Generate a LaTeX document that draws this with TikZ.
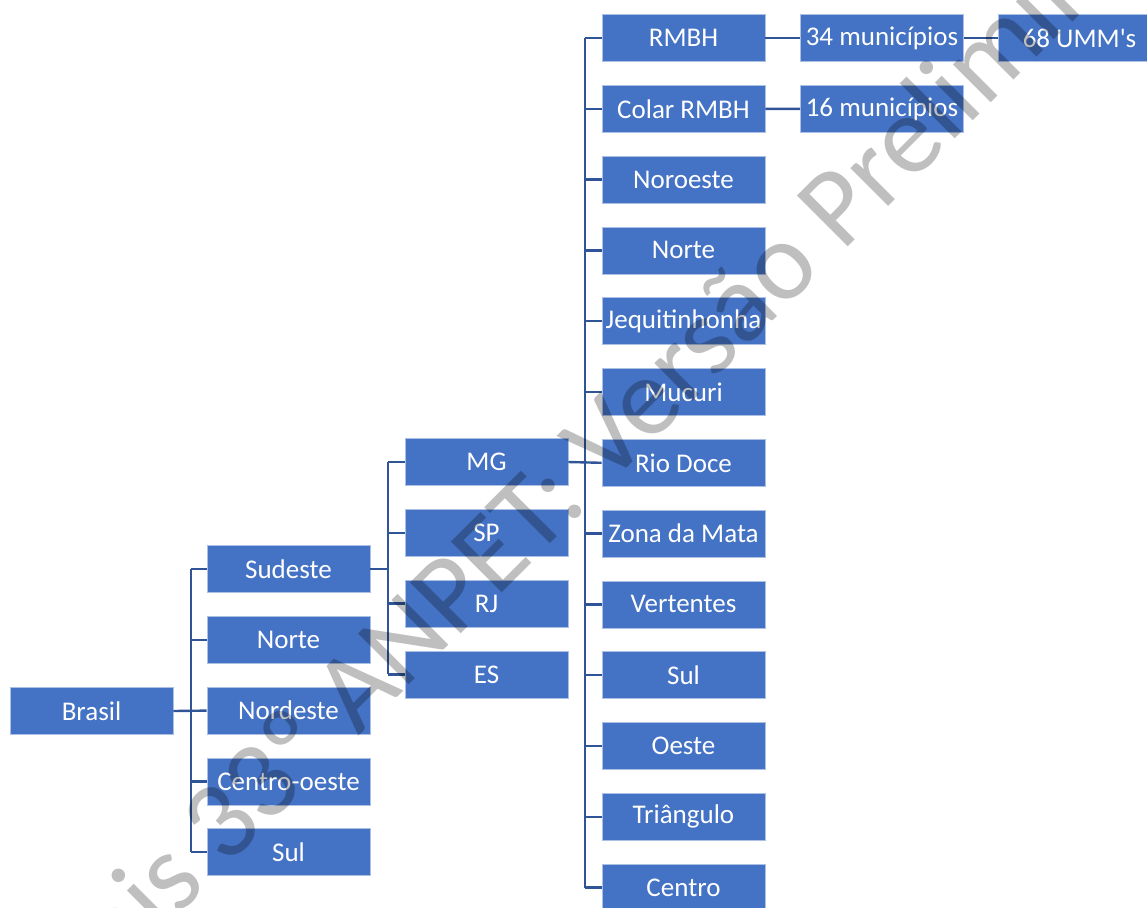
\documentclass[tikz,border=0pt]{standalone}
\usepackage{fontspec}
\setmainfont{Carlito}
\usetikzlibrary{positioning}

\definecolor{boxblue}{HTML}{4472C4}
\definecolor{linkblue}{HTML}{2F5597}

\begin{document}
\begin{tikzpicture}[
	x=0.5pt, y=-0.5pt,
	box/.style={fill=boxblue, draw=white!55!boxblue, line width=0.3pt,
		text=white, font=\fontsize{13.5}{15}\selectfont,
		minimum width=81.5pt, minimum height=23.5pt, inner sep=0pt},
	link/.style={draw=linkblue, line width=1.2pt},
	watermark/.style={text=black, text opacity=0.25,
		font=\fontsize{56}{60}\selectfont, inner sep=0pt}]

\clip (0,0) rectangle (1147,907);

\def\RowStep{70.8}

% Pais
\node[box] (brasil) at (91.5,711) {Brasil};

% Regioes
\foreach \nm/\txt [count=\i] in {sudeste/Sudeste, norte/Norte, nordeste/Nordeste,
	centroOeste/Centro-oeste, sul/Sul}
	\node[box] (\nm) at (288.5, {569+\RowStep*(\i-1)}) {\txt};

% Estados do Sudeste
\foreach \nm/\txt [count=\i] in {mg/MG, sp/SP, rj/RJ, es/ES}
	\node[box] (\nm) at (486.5, {462+\RowStep*(\i-1)}) {\txt};

% Mesorregioes de MG
\foreach \nm/\txt [count=\i] in {rmbh/RMBH, colar/Colar RMBH, noroeste/Noroeste,
	norteMG/Norte, jequi/Jequitinhonha, mucuri/Mucuri, riodoce/Rio Doce,
	zona/Zona da Mata, vertentes/Vertentes, sulMG/Sul, oeste/Oeste,
	triangulo/Triângulo, centro/Centro}
	\node[box] (\nm) at (683.5, {38+\RowStep*(\i-1)}) {\txt};

% Municipios e UMM's
\node[box] (mun34) at (882,38) {34 municípios};
\node[box] (mun16) at (882,109) {16 municípios};
\node[box] (umm) at (1079.5,38) {68 UMM\textquotesingle s};

% Brasil -> regioes
\coordinate (busR) at (191,711);
\draw[link] (brasil.east) -- (nordeste.west);
\draw[link] (busR |- sudeste.west) -- (busR |- sul.west);
\foreach \nm in {sudeste,norte,centroOeste,sul}
	\draw[link] (busR |- \nm.west) -- (\nm.west);

% Sudeste -> estados
\coordinate (busE) at (388,569);
\draw[link] (sudeste.east) -- (busE);
\draw[link] (busE |- mg.west) -- (busE |- es.west);
\foreach \nm in {mg,sp,rj,es}
	\draw[link] (busE |- \nm.west) -- (\nm.west);

% MG -> mesorregioes
\coordinate (busM) at (585,462);
\draw[link] (mg.east) -- (riodoce.west);
\draw[link] (busM |- rmbh.west) -- (busM |- centro.west);
\foreach \nm in {rmbh,colar,noroeste,norteMG,jequi,mucuri,zona,vertentes,
	sulMG,oeste,triangulo,centro}
	\draw[link] (busM |- \nm.west) -- (\nm.west);

% RMBH -> municipios -> UMM's
\draw[link] (rmbh) -- (mun34);
\draw[link] (colar) -- (mun16);
\draw[link] (mun34) -- (umm);

% marca d'agua
\node[watermark, rotate=45] (marca) at (577,463) {Anais 33º ANPET: Versão Preliminar};

\end{tikzpicture}
\end{document}
